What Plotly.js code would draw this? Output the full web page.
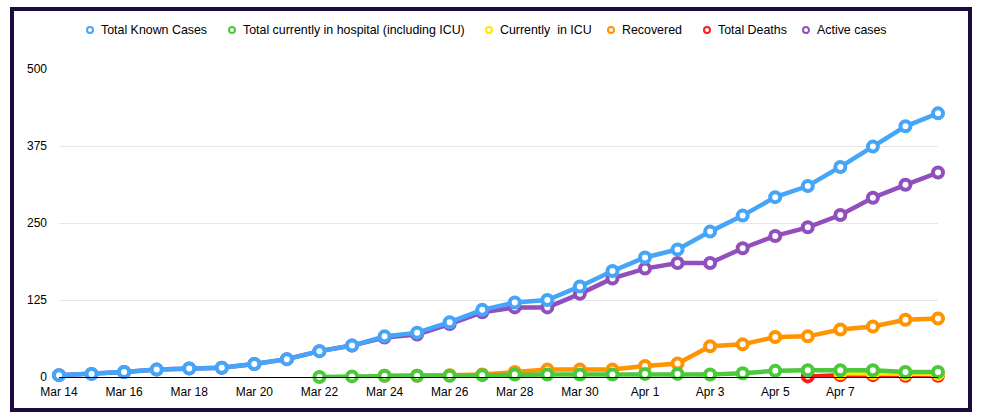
<!DOCTYPE html>
<html>
<head>
<meta charset="utf-8">
<script src="https://cdn.plot.ly/plotly-3.0.1.min.js"></script>
<style>
  html, body { margin: 0; padding: 0; background: #ffffff; }
  #wrap { position: relative; width: 986px; height: 420px; }
  #chart { position: absolute; left: 0; top: 0; width: 986px; height: 420px; }
  #frame { position: absolute; left: 10px; top: 7px; width: 962px; height: 405px;
           box-sizing: border-box; border: 4px solid #1e0b3d; pointer-events: none; }
</style>
</head>
<body>
<div id="wrap">
  <div id="chart"></div>
  <div id="frame"></div>
</div>
<script>
// ---- data ----
const dates = [
  '2020-03-14','2020-03-15','2020-03-16','2020-03-17','2020-03-18','2020-03-19','2020-03-20',
  '2020-03-21','2020-03-22','2020-03-23','2020-03-24','2020-03-25','2020-03-26','2020-03-27',
  '2020-03-28','2020-03-29','2020-03-30','2020-03-31','2020-04-01','2020-04-02','2020-04-03',
  '2020-04-04','2020-04-05','2020-04-06','2020-04-07','2020-04-08','2020-04-09','2020-04-10'
];
const totalCases = [3,5,8,12,14,15,21,29,42,51,66,72,89,109,121,125,147,172,194,207,236,262,292,310,341,374,407,428];
const activeCases = [3,5,8,12,14,15,21,29,42,51,64,69,86,105,113,113,135,160,176,185,185,209,229,243,263,291,312,332];
const recovered = [null,null,null,null,null,null,null,null,null,null,2,2,3,4,8,12,12,12,18,22,50,53,65,66,77,82,93,95];
const inHospital = [null,null,null,null,null,null,null,null,0,1,2,2,2,3,4,4,4,4,5,5,4,6,10,11,11,11,8,8];
const inICU = [null,null,null,null,null,null,null,null,null,null,null,null,null,null,null,null,null,null,null,null,null,null,null,null,6,6,5,5];
const totalDeaths = [null,null,null,null,null,null,null,null,null,null,null,null,null,null,null,null,null,null,null,null,null,null,null,1,3,3,2,2];

const seriesNames = ['Total Known Cases','Total currently in hospital (including ICU)','Currently  in ICU','Recovered','Total Deaths','Active cases'];
const seriesValues = [totalCases, inHospital, inICU, recovered, totalDeaths, activeCases];
const seriesColors = ['#45a5f8','#4dc83c','#ffe800','#ff9400','#ff1a1a','#914fbd'];
const tickDates = ['2020-03-14','2020-03-16','2020-03-18','2020-03-20','2020-03-22','2020-03-24','2020-03-26',
                   '2020-03-28','2020-03-30','2020-04-01','2020-04-03','2020-04-05','2020-04-07'];

// ---- layout constants (pixels) ----
const W = 986, H = 420;
const M = { l: 59, r: 48, t: 69, b: 42.5 };
const plotW = W - M.l - M.r, plotH = H - M.t - M.b;
const legendY = 30;                                   // legend row centre
const legendMarkerX = [90, 232, 489, 611, 707, 806];  // legend symbol centres
const legendTextGap = 9;

const traces = [];
// draw in reverse so the first series sits on top
for (let i = seriesNames.length - 1; i >= 0; i--) {
  traces.push({
    type: 'scatter', mode: 'lines+markers', name: seriesNames[i],
    x: dates, y: seriesValues[i], showlegend: false, cliponaxis: false,
    line: { color: seriesColors[i], width: 4.5 },
    marker: { symbol: 'circle', size: 10, color: '#ffffff', line: { color: seriesColors[i], width: 4 } },
    hoverinfo: 'x+y+name'
  });
}

// custom legend: circle symbol + text, matching the reference spacing
const px2x = px => (px - M.l) / plotW;
const py2y = py => (H - M.b - py) / plotH;
const shapes = [], annotations = [];
for (let i = 0; i < seriesNames.length; i++) {
  shapes.push({
    type: 'circle', xref: 'paper', yref: 'paper',
    xsizemode: 'pixel', ysizemode: 'pixel',
    xanchor: px2x(legendMarkerX[i]), yanchor: py2y(legendY),
    x0: -3, x1: 3, y0: -3, y1: 3,
    line: { color: seriesColors[i], width: 2 }, fillcolor: '#ffffff'
  });
  annotations.push({
    xref: 'paper', yref: 'paper',
    x: px2x(legendMarkerX[i] + legendTextGap), y: py2y(legendY),
    xanchor: 'left', yanchor: 'middle', showarrow: false,
    text: seriesNames[i].replace(/  /g, ' &nbsp;'),
    font: { family: 'Liberation Sans, Arial, sans-serif', size: 12.4, color: '#000000' }
  });
}

const layout = {
  width: W, height: H,
  margin: M,
  paper_bgcolor: '#ffffff', plot_bgcolor: '#ffffff',
  font: { family: 'Liberation Sans, Arial, sans-serif', size: 12, color: '#000000' },
  showlegend: false,
  shapes: shapes,
  annotations: annotations,
  xaxis: {
    type: 'date', range: ['2020-03-14', '2020-04-10'],
    tickmode: 'array', tickvals: tickDates, tickformat: '%b %-d',
    showgrid: false, zeroline: false,
    showline: true, linecolor: '#000000', linewidth: 1,
    ticks: '', ticklabelstandoff: 4,
    tickfont: { size: 12, color: '#000000' }
  },
  yaxis: {
    range: [0, 500], tickmode: 'linear', tick0: 0, dtick: 125,
    showgrid: true, gridcolor: '#e6e6e6', gridwidth: 1,
    zeroline: false, showline: false, ticks: '',
    ticklabelstandoff: 11,
    tickfont: { size: 12, color: '#000000' }
  }
};

Plotly.newPlot('chart', traces, layout, { displayModeBar: false, staticPlot: true });
</script>
</body>
</html>
